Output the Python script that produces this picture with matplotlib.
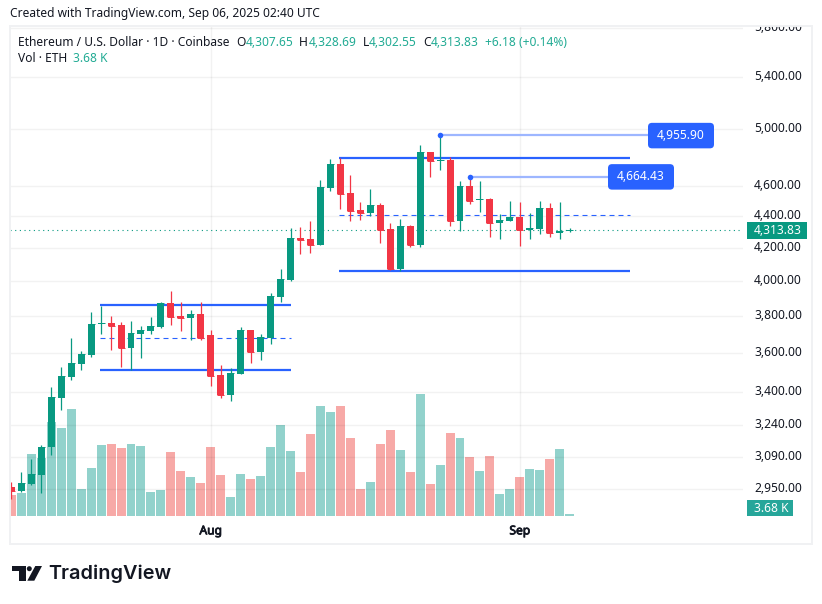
"""ETH/USD daily candles with volume, TradingView style."""
import matplotlib
matplotlib.use("Agg")
import matplotlib.patheffects as pe
import matplotlib.pyplot as plt
import numpy as np
from matplotlib.patches import FancyBboxPatch, Polygon, Rectangle, Circle
from matplotlib.ticker import NullLocator
from matplotlib.transforms import IdentityTransform, ScaledTranslation

plt.rcParams["font.family"] = ["Noto Sans", "DejaVu Sans"]

opens = [2958, 2940, 2971, 3010, 3137, 3370, 3475, 3543, 3590, 3758,
         3763, 3752, 3627, 3703, 3719, 3742, 3873, 3801, 3790, 3812,
         3697, 3485, 3387, 3490, 3724, 3606, 3681, 3909, 4008, 4263,
         4256, 4220, 4587, 4751, 4553, 4441, 4422, 4473, 4319, 4073,
         4338, 4220, 4836, 4772, 4779, 4370, 4600, 4507, 4513, 4357,
         4370, 4396, 4313, 4319, 4454, 4294, 4307.65]
highs = [2979, 3022, 3081, 3146, 3424, 3526, 3680, 3611, 3823, 3857,
         3801, 3769, 3774, 3747, 3796, 3879, 3941, 3883, 3834, 3879,
         3724, 3537, 3521, 3742, 3724, 3703, 3930, 4073, 4326, 4332,
         4370, 4642, 4787, 4794, 4675, 4493, 4579, 4486, 4357, 4382,
         4345, 4887, 4836, 4955.90, 4800, 4635, 4664.43, 4635, 4520, 4416,
         4500, 4493, 4422, 4500, 4486, 4493, 4328.69]
lows = [2906, 2936, 2967, 2932, 3100, 3311, 3460, 3512, 3580, 3703,
        3617, 3526, 3512, 3575, 3703, 3736, 3752, 3719, 3667, 3667,
        3430, 3370, 3355, 3490, 3548, 3565, 3649, 3880, 4004, 4165,
        4171, 4220, 4567, 4448, 4370, 4377, 4402, 4231, 4067, 4061,
        4208, 4208, 4661, 4710, 4338, 4307, 4480, 4429, 4268, 4256,
        4370, 4214, 4256, 4288, 4268, 4256, 4302.55]
closes = [2940, 2975, 3013, 3137, 3375, 3480, 3548, 3596, 3758, 3763,
          3747, 3627, 3708, 3724, 3747, 3873, 3796, 3790, 3812, 3683,
          3480, 3387, 3495, 3724, 3606, 3687, 3913, 4013, 4263, 4250,
          4220, 4594, 4751, 4547, 4435, 4422, 4473, 4313, 4073, 4338,
          4220, 4836, 4772, 4779, 4370, 4600, 4500, 4513, 4357, 4377,
          4396, 4313, 4326, 4454, 4294, 4307, 4313.83]
# volume in thousands of ETH
volumes = [39, 42, 114, 107, 173, 162, 197, 50, 88, 131,
           132, 125, 132, 129, 44, 48, 118, 83, 72, 61,
           127, 75, 35, 77, 68, 74, 127, 167, 120, 81,
           151, 202, 191, 202, 144, 50, 63, 132, 158, 121,
           81, 224, 59, 94, 153, 144, 109, 83, 110, 40,
           50, 72, 86, 85, 105, 123, 3.68]

month_pos = [20, 51]
month_labels = ["Aug", "Sep"]
price_ticks = [5800, 5400, 5000, 4600, 4400, 4200, 4000, 3800, 3600, 3400, 3240, 3090, 2950]
price_labels = ["5,800.00", "5,400.00", "5,000.00", "4,600.00", "4,400.00", "4,200.00", "4,000.00",
                "3,800.00", "3,600.00", "3,400.00", "3,240.00", "3,090.00", "2,950.00"]

# drawn ranges: x start, x end, top, mid, bottom
range_a = (8.9, 28.0, 3863, 3679, 3513)
range_b = (32.9, 62.05, 4794, 4407, 4061)
# price notes: bar, price, label, tag centre in pixels
notes = [(43, 4955.90, "4,955.90", 681), (46, 4664.43, "4,664.43", 641)]
last_close = closes[-1]

GREEN = "#089981"
RED = "#F23645"
BLUE = "#2962FF"
INK = "#131722"
TEAL = "#22AB94"
W, H = 822, 604


def fx(x):
    return x / W


def fy(y):
    return 1 - y / H


def add_tag(fig, x0, x1, y0, y1, color, r=0):
    # pixel box, y measured from the top
    if r:
        p = FancyBboxPatch((x0 + r, H - y1 + r), x1 - x0 - 2 * r, y1 - y0 - 2 * r,
                           boxstyle=f"round,pad={r},rounding_size={r}", fc=color, ec="none",
                           transform=IdentityTransform(), zorder=6)
    else:
        p = Rectangle((x0, H - y1), x1 - x0, y1 - y0, fc=color, ec="none",
                      transform=IdentityTransform(), zorder=6)
    fig.add_artist(p)


def main():
    fig = plt.figure(figsize=(W / 100, H / 100), dpi=100, facecolor="white")
    rect = [fx(10), fy(516), (743 - 10) / W, (516 - 26) / H]

    ax_vol = fig.add_axes(rect, zorder=1)
    ax = fig.add_axes(rect, zorder=2)
    ax.patch.set_visible(False)

    x = np.arange(len(closes))
    xlim = ((10 - 11.35) / 9.97, (743 - 11.35) / 9.97)

    # volume pane
    vol_colors = ["#92D2CC" if c >= o else "#F7A9A7" for o, c in zip(opens, closes)]
    ax_vol.bar(x, volumes, width=0.9, color=vol_colors, linewidth=0)
    ax_vol.set_xlim(xlim)
    ax_vol.set_ylim(0, 490 * 1.84)
    ax_vol.axis("off")

    # price pane
    ax.set_yscale("log")
    ax.set_xlim(xlim)
    ax.set_ylim(2834, 5819)
    ax.yaxis.tick_right()
    ax.set_yticks(price_ticks, price_labels)
    ax.yaxis.set_minor_locator(NullLocator())
    ax.set_xticks(month_pos, month_labels)
    ax.tick_params(axis="y", length=0, pad=7.9, labelsize=8.64, labelcolor=INK)
    ax.tick_params(axis="x", length=0, pad=6, labelsize=8.64, labelcolor=INK)
    # no bold cut of the font here, so thicken the month labels with a stroke
    for lbl in ax.get_xticklabels():
        lbl.set_path_effects([pe.withStroke(linewidth=0.6, foreground=INK)])
    # the scale labels sit a little above their grid lines
    up = ScaledTranslation(0, 2 / 100, fig.dpi_scale_trans)
    for lbl in ax.get_yticklabels():
        lbl.set_transform(lbl.get_transform() + up)
    ax.grid(True, color="black", alpha=0.05, lw=1.0)
    ax.set_axisbelow(True)
    for s in ax.spines.values():
        s.set_visible(False)

    for x0, x1, top, mid, bot in (range_a, range_b):
        ax.hlines([top, bot], x0, x1, color=BLUE, lw=1.6, zorder=2)
        ax.hlines(mid, x0, x1, color=BLUE, lw=0.8, linestyles=(0, (4.5, 3.6)), zorder=2)

    ax.axhline(last_close, color=GREEN, lw=0.8, ls=(0, (1, 3.2)), zorder=2)

    # candles
    colors = [GREEN if c >= o else RED for o, c in zip(opens, closes)]
    ax.vlines(x, lows, highs, colors=colors, lw=0.9, zorder=3)
    tops = np.maximum(opens, closes)
    bots = np.minimum(opens, closes)
    ax.bar(x, tops - bots, bottom=bots, width=0.7, color=colors, linewidth=0, zorder=3.1)
    ax.hlines(closes, x - 0.35, x + 0.35, colors=colors, lw=0.7, zorder=3.1)

    # price notes
    for bar, price, label, cx in notes:
        ax.hlines(price, bar, (cx - 11.35) / 9.97, color="#9DB6FF", lw=1.6, zorder=4)
        ax.plot([bar], [price], "o", ms=4, color=BLUE, mew=0, zorder=5)
        cy = H - ax.transData.transform((bar, price))[1]
        add_tag(fig, cx - 33, cx + 33, cy - 12.5, cy + 13, BLUE, r=4)
        fig.text(fx(cx), fy(cy), label, color="white", fontsize=8.64, ha="center", va="center", zorder=7)

    # frame and header mask
    fig.add_artist(Rectangle((0, H - 26), W, 26, fc="white", ec="none",
                             transform=IdentityTransform(), zorder=4))
    fig.add_artist(Rectangle((10, H - 544), 802, 518, fc="none", ec="#F0F1F3", lw=1.4,
                             transform=IdentityTransform(), zorder=5))

    # right scale tags
    add_tag(fig, 747, 807, 222, 239, GREEN)
    fig.text(fx(754), fy(230.5), "4,313.83", color="white", fontsize=8.64, va="center", zorder=7)
    add_tag(fig, 747, 793, 500, 516, "#26A69A")
    fig.text(fx(754), fy(508), "3.68 K", color="white", fontsize=8.64, va="center", zorder=7)

    # header and legend
    fig.text(fx(10), fy(14), "Created with TradingView.com, Sep 06, 2025 02:40 UTC",
             color=INK, fontsize=8.64, va="center", zorder=7)
    fig.text(fx(18), fy(42), "Ethereum / U.S. Dollar · 1D · Coinbase", color=INK, fontsize=8.64,
             va="center", zorder=7)
    legend_items = [(236, "O", INK), (245.5, "4,307.65", TEAL), (299, "H", INK), (308.5, "4,328.69", TEAL),
                    (363, "L", INK), (369, "4,302.55", TEAL), (423, "C", INK), (431, "4,313.83", TEAL),
                    (485, "+6.18 (+0.14%)", TEAL)]
    for lx, txt, col in legend_items:
        fig.text(fx(lx), fy(42), txt, color=col, fontsize=8.64, va="center", zorder=7)
    fig.text(fx(18), fy(59), "Vol · ETH", color=INK, fontsize=8.64, va="center", zorder=7)
    fig.text(fx(73), fy(59), "3.68 K", color=TEAL, fontsize=8.64, va="center", zorder=7)

    # logo
    logo = "#131722"
    fig.add_artist(Polygon([(12.3, H - 566), (26, H - 566), (26, H - 580.7), (19.3, H - 580.7),
                            (19.3, H - 570.7), (12.3, H - 570.7)], fc=logo, ec="none",
                           transform=IdentityTransform()))
    fig.add_artist(Circle((29.3, H - 568.7), 2.5, fc=logo, ec="none", transform=IdentityTransform()))
    fig.add_artist(Polygon([(35.3, H - 566), (42, H - 566), (34.3, H - 580.7), (27.3, H - 580.7)],
                           fc=logo, ec="none", transform=IdentityTransform()))
    fig.text(fx(48), fy(574), "TradingView", color=logo, family=["Inter", "DejaVu Sans"],
             fontsize=14.3, fontweight="semibold", va="center")

    fig.savefig("out.png", dpi=100)
    plt.close(fig)


if __name__ == "__main__":
    main()
